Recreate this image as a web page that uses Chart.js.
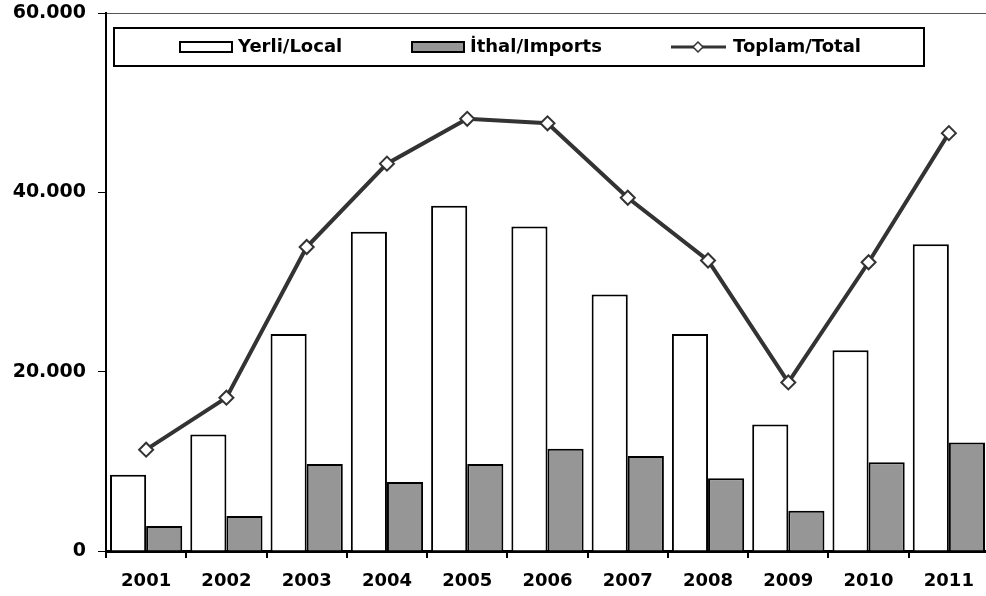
<!DOCTYPE html>
<html>
<head>
<meta charset="utf-8">
<script src="https://cdn.jsdelivr.net/npm/chart.js@4"></script>
<style>
  html, body { margin: 0; padding: 0; background: #fff; overflow: hidden; }
  #wrap { width: 989px; height: 596px; }
</style>
</head>
<body>
<div id="wrap"><canvas id="chart"></canvas></div>
<script>
const years = ['2001', '2002', '2003', '2004', '2005', '2006', '2007', '2008', '2009', '2010', '2011'];
const yerli = [8500, 13000, 24200, 35600, 38500, 36200, 28600, 24200, 14100, 22400, 34200];
const ithal = [2800, 3900, 9700, 7700, 9700, 11400, 10600, 8100, 4500, 9900, 12100];
const toplam = [11300, 17100, 33900, 43200, 48200, 47700, 39400, 32400, 18800, 32200, 46600];
const seriesNames = ['Yerli/Local', 'İthal/Imports', 'Toplam/Total'];
const yMax = 60000;
const yStep = 20000;

const FONT = '"DejaVu Sans", Verdana, sans-serif';

function fmt(v) {
    return String(v).replace(/\B(?=(\d{3})+(?!\d))/g, '.');
}

// legend drawn as a framed box like the original
const legendBox = {
    id: 'legendBox',
    afterDraw(chart) {
        const ctx = chart.ctx;
        ctx.save();
        ctx.fillStyle = '#fff';
        ctx.fillRect(114, 28, 810, 38);
        ctx.lineWidth = 2;
        ctx.strokeStyle = '#000';
        ctx.strokeRect(114, 28, 810, 38);

        const xs = [180, 412, 671];
        const cy = 47;
        ctx.font = 'bold 18px ' + FONT;
        ctx.textBaseline = 'middle';
        chart.data.datasets.forEach((ds, i) => {
            const x = xs[i];
            let tx;
            if (ds.type === 'line') {
                ctx.strokeStyle = ds.borderColor;
                ctx.lineWidth = 3;
                ctx.beginPath();
                ctx.moveTo(x, cy);
                ctx.lineTo(x + 55, cy);
                ctx.stroke();
                const cx = x + 27, r = 5;
                ctx.beginPath();
                ctx.moveTo(cx - r, cy);
                ctx.lineTo(cx, cy - r);
                ctx.lineTo(cx + r, cy);
                ctx.lineTo(cx, cy + r);
                ctx.closePath();
                ctx.fillStyle = '#fff';
                ctx.fill();
                ctx.lineWidth = 1.5;
                ctx.stroke();
                tx = x + 62;
            } else {
                ctx.fillStyle = ds.backgroundColor;
                ctx.fillRect(x, cy - 5, 52, 10);
                ctx.lineWidth = 2;
                ctx.strokeStyle = '#000';
                ctx.strokeRect(x, cy - 5, 52, 10);
                tx = x + 58;
            }
            ctx.fillStyle = '#000';
            ctx.fillText(ds.label, tx, cy);
        });
        ctx.restore();
    }
};

const ctx = document.getElementById('chart').getContext('2d');
new Chart(ctx, {
    type: 'bar',
    data: {
        labels: years,
        datasets: [
            {
                label: seriesNames[0],
                data: yerli,
                backgroundColor: '#ffffff',
                borderColor: '#000000',
                borderWidth: 2,
                categoryPercentage: 0.9,
                barPercentage: 1.0,
                order: 1
            },
            {
                label: seriesNames[1],
                data: ithal,
                backgroundColor: '#969696',
                borderColor: '#000000',
                borderWidth: 2,
                categoryPercentage: 0.9,
                barPercentage: 1.0,
                order: 1
            },
            {
                type: 'line',
                label: seriesNames[2],
                data: toplam,
                borderColor: '#333333',
                borderWidth: 4,
                tension: 0,
                pointStyle: 'rectRot',
                pointRadius: 7,
                pointBackgroundColor: '#ffffff',
                pointBorderColor: '#333333',
                pointBorderWidth: 2,
                order: 0
            }
        ]
    },
    options: {
        responsive: true,
        maintainAspectRatio: false,
        animation: false,
        layout: { autoPadding: false, padding: { top: 13, left: 0, right: 0, bottom: 0 } },
        plugins: {
            legend: { display: false },
            tooltip: { enabled: false }
        },
        scales: {
            x: {
                offset: true,
                grid: {
                    offset: true,
                    drawOnChartArea: false,
                    tickLength: 7,
                    tickColor: '#000',
                    lineWidth: 2
                },
                border: { color: '#000', width: 3 },
                ticks: {
                    color: '#000',
                    padding: 13,
                    maxRotation: 0,
                    font: { family: FONT, size: 18, weight: 'bold' }
                },
                afterFit: s => {
                    s.height = 45;
                    s.paddingLeft = 0;
                    s.paddingRight = 0;
                }
            },
            y: {
                min: 0,
                max: yMax,
                grid: {
                    color: c => (c.tick && c.tick.value === yMax ? '#555' : 'rgba(0,0,0,0)'),
                    tickColor: '#000',
                    tickLength: 8,
                    lineWidth: 1
                },
                border: { color: '#000', width: 2 },
                ticks: {
                    stepSize: yStep,
                    color: '#000',
                    padding: 12,
                    font: { family: FONT, size: 19, weight: 'bold' },
                    callback: v => fmt(v)
                },
                afterFit: s => {
                    s.width = 106;
                    s.paddingTop = 0;
                    s.paddingBottom = 0;
                }
            }
        }
    },
    plugins: [legendBox]
});
</script>
</body>
</html>
